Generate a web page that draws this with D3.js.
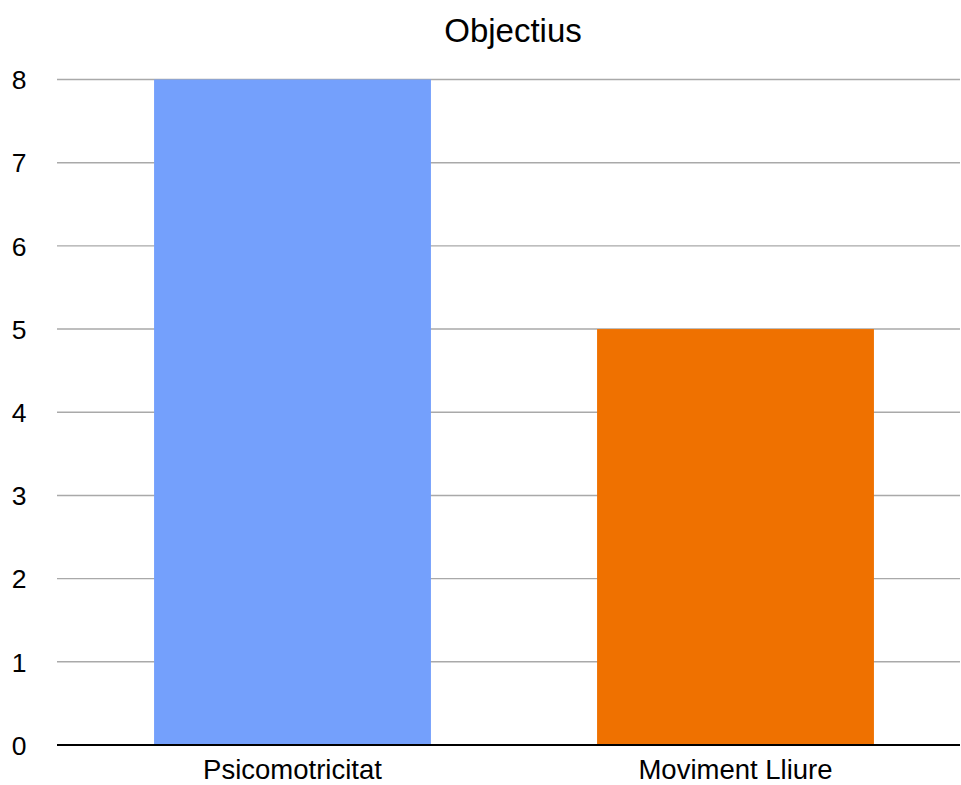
<!DOCTYPE html>
<head>
    <meta charset="utf-8">
    <title>Objectius</title>
    <script src="https://d3js.org/d3.v7.min.js"></script>
    <style>
        body { margin: 0; background: #fff; }
        text { font-family: "Liberation Sans", Arial, Helvetica, sans-serif; fill: #000; }
    </style>
</head>
<body>
    <div id="container"></div>
    <script>
        //--------------------------- DATA ---------------------------//
        var title = "Objectius";
        var categories = ["Psicomotricitat", "Moviment Lliure"];
        var values = [8, 5];
        var barColors = ["#74a0fc", "#ef7100"];
        var yTicks = [0, 1, 2, 3, 4, 5, 6, 7, 8];

        var width = 961, height = 785;
        var plotLeft = 57, plotRight = 960, plotTop = 79.5, plotBottom = 745;

        var svg = d3.select("#container").append("svg")
            .attr("width", width)
            .attr("height", height);

        //-------------------------- SCALES --------------------------//
        var x = d3.scaleBand()
            .domain(categories)
            .range([71, 957])
            .paddingInner(0.375)
            .paddingOuter(0.1875);

        var y = d3.scaleLinear()
            .domain([0, 8])
            .range([plotBottom, plotTop]);

        //-------------------------- GRID ----------------------------//
        svg.append("g")
            .selectAll("line")
            .data(yTicks.filter(d => d > 0))
            .join("line")
            .attr("x1", plotLeft)
            .attr("x2", plotRight)
            .attr("y1", d => y(d))
            .attr("y2", d => y(d))
            .attr("stroke", "#a9a9a9")
            .attr("stroke-width", 1.4);

        //-------------------------- BARS ----------------------------//
        svg.append("g")
            .selectAll("rect")
            .data(values)
            .join("rect")
            .attr("x", (d, i) => x(categories[i]))
            .attr("width", x.bandwidth())
            .attr("y", d => y(d))
            .attr("height", d => y(0) - y(d))
            .attr("fill", (d, i) => barColors[i]);

        //-------------------------- AXES ----------------------------//
        var yAxis = d3.axisLeft(y).tickValues(yTicks).tickSize(0).tickPadding(0).tickFormat(d3.format("d"));
        svg.append("g")
            .attr("transform", "translate(26.5,0)")
            .call(yAxis)
            .call(g => g.select(".domain").remove())
            .selectAll("text")
            .style("font-size", "26.5px")
            .attr("dy", "0.35em");

        var xAxis = d3.axisBottom(x).tickSize(0).tickPadding(0);
        svg.append("g")
            .attr("transform", "translate(0," + plotBottom + ")")
            .call(xAxis)
            .call(g => g.select(".domain").remove())
            .selectAll("text")
            .style("font-size", "27.5px")
            .attr("y", 34)
            .attr("dy", 0);

        // baseline
        svg.append("line")
            .attr("x1", plotLeft)
            .attr("x2", plotRight)
            .attr("y1", y(0))
            .attr("y2", y(0))
            .attr("stroke", "#000")
            .attr("stroke-width", 2);

        //-------------------------- TITLE ---------------------------//
        svg.append("text")
            .attr("x", 513)
            .attr("y", 42)
            .attr("text-anchor", "middle")
            .style("font-size", "33px")
            .text(title);
    </script>
</body>
